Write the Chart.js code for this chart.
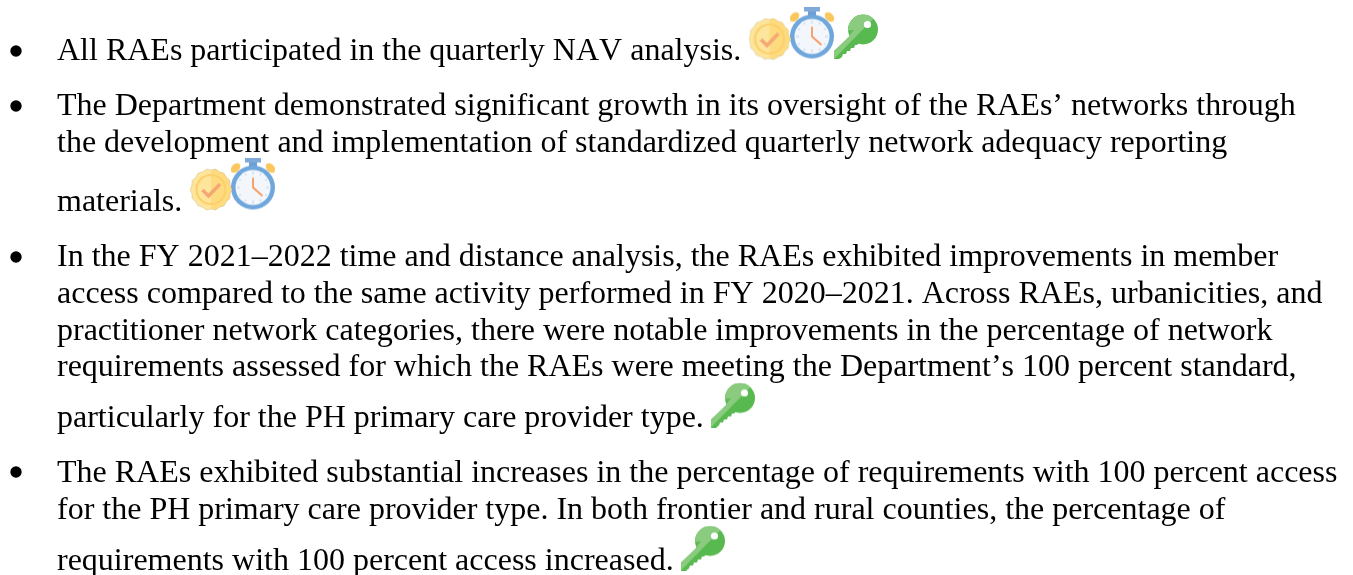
<!DOCTYPE html>
<html>
<head>
<meta charset="utf-8">
<style>
html,body{margin:0;padding:0;background:#fff;width:1353px;height:575px;overflow:hidden}
#wrap{position:relative;width:1353px;height:575px}
canvas{position:absolute;left:0;top:0}
.ln{position:absolute;left:57px;white-space:nowrap;font-family:"Liberation Serif",serif;font-size:32px;line-height:36px;color:#000;font-kerning:none}
</style>
<script src="https://cdn.jsdelivr.net/npm/chart.js@4"></script>
</head>
<body>
<div id="wrap"><canvas id="c" width="1353" height="575"></canvas></div>
<script>
const textLines = [
"All RAEs participated in the quarterly NAV analysis.",
"The Department demonstrated significant growth in its oversight of the RAEs’ networks through",
"the development and implementation of standardized quarterly network adequacy reporting",
"materials.",
"In the FY 2021–2022 time and distance analysis, the RAEs exhibited improvements in member",
"access compared to the same activity performed in FY 2020–2021. Across RAEs, urbanicities, and",
"practitioner network categories, there were notable improvements in the percentage of network",
"requirements assessed for which the RAEs were meeting the Department’s 100 percent standard,",
"particularly for the PH primary care provider type.",
"The RAEs exhibited substantial increases in the percentage of requirements with 100 percent access",
"for the PH primary care provider type. In both frontier and rural counties, the percentage of",
"requirements with 100 percent access increased."
];
const lineBaselines = [60,115,152,211,266,303,340,376,427,482,519,570];
const bulletX = [16,16,16,16];
const bulletY = [51,106,257,472];
const badgeX = [769.5,211];
const badgeY = [39,189.5];
const watchX = [812,253];
const watchY = [33,184];
const keyX = [856,733,703];
const keyY = [36.5,405,548];

function iconCanvas(w,h,draw){
  const c=document.createElement('canvas');c.width=w;c.height=h;
  draw(c.getContext('2d'));return c;
}
const badgeIcon=iconCanvas(42,43,g=>{
  const cx=21,cy=21.5,n=14;
  const shape=new Path2D();
  for(let i=0;i<=n*2;i++){
    const a=i/(n*2)*Math.PI*2,r=i%2?19.6:20.9;
    const x=cx+Math.cos(a)*r,y=cy+Math.sin(a)*r;
    i?shape.lineTo(x,y):shape.moveTo(x,y);
  }
  shape.closePath();
  g.fillStyle='#fee59c';g.fill(shape);
  g.save();g.clip(shape);g.fillStyle='#fedb7e';g.fillRect(cx,0,21,43);g.restore();
  g.strokeStyle='rgba(190,170,120,.5)';g.lineWidth=.7;g.stroke(shape);
  g.beginPath();g.arc(cx,cy,14.5,0,7);g.strokeStyle='#fcd06b';g.lineWidth=2.2;g.stroke();
  g.beginPath();g.moveTo(12.5,22);g.lineTo(18.5,28);g.lineTo(30,16);
  g.strokeStyle='#f5a873';g.lineWidth=3.4;g.lineCap='butt';g.stroke();
});
const watchIcon=iconCanvas(44,53,g=>{
  const cx=22,cy=30;
  g.fillStyle='#fbc75d';
  [[-1,4.5,10.5],[1,39.5,10.5]].forEach(([s,x,y])=>{
    g.save();g.translate(x,y);g.rotate(s*Math.PI/4);
    g.beginPath();g.ellipse(0,0,5.5,3.8,0,0,7);g.fill();g.restore();
  });
  g.fillStyle='#7ea9d8';g.fillRect(14,0,16,5);
  g.fillStyle='#6d9fd6';g.fillRect(18,5,8,5);
  g.beginPath();g.arc(cx,cy,22,0,7);g.fillStyle='#6fa6dc';g.fill();
  g.beginPath();g.arc(cx,cy,17.5,0,7);g.fillStyle='#f3f7fc';g.fill();
  g.strokeStyle='#c5d9ef';g.lineWidth=1.2;
  for(let i=0;i<12;i++){
    const a=i/12*Math.PI*2,r1=i%3?14:13,r2=16;
    g.beginPath();g.moveTo(cx+Math.cos(a)*r1,cy+Math.sin(a)*r1);g.lineTo(cx+Math.cos(a)*r2,cy+Math.sin(a)*r2);g.stroke();
  }
  g.lineCap='round';g.lineWidth=1.8;g.strokeStyle='#f59a5f';
  g.beginPath();g.moveTo(cx,cy-9);g.lineTo(cx,cy);g.lineTo(cx+9,cy+8);g.stroke();
});
const keyIcon=iconCanvas(44,45,g=>{
  const body=new Path2D();
  body.arc(29,15.5,15,0,Math.PI*2);
  g.fillStyle='#57b94f';g.fill(body);
  const shaft=new Path2D();
  shaft.moveTo(0,37);shaft.lineTo(21,17);shaft.lineTo(29,25);
  shaft.lineTo(23,31);shaft.lineTo(21,31);shaft.lineTo(20,34);shaft.lineTo(17,34);shaft.lineTo(16,37);
  shaft.lineTo(13,37);shaft.lineTo(12,40);shaft.lineTo(9,40);shaft.lineTo(8,43);shaft.lineTo(5,45);shaft.lineTo(0,45);
  shaft.closePath();
  g.fill(shaft);
  g.save();
  const lite=new Path2D();
  lite.moveTo(0,38);lite.lineTo(20,16);lite.arc(29,15.5,15,Math.PI*0.98,Math.PI*1.75,false);
  lite.lineTo(39,5);lite.lineTo(0,45);lite.closePath();
  g.fillStyle='#8bcb7f';
  const all=new Path2D();all.addPath(body);all.addPath(shaft);
  g.clip(all);g.fill(lite);g.restore();
  g.beginPath();g.arc(33.5,10.5,3.6,0,7);g.fillStyle='#fff';g.fill();
});

const xyPairs=(xs,ys)=>xs.map((x,i)=>({x,y:ys[i]}));
const chart=new Chart(document.getElementById('c'),{
  type:'scatter',
  data:{datasets:[
    {label:'bullets',data:xyPairs(bulletX,bulletY),pointStyle:'circle',pointRadius:5.7,pointBackgroundColor:'#000',pointBorderWidth:0},
    {label:'badge',data:xyPairs(badgeX,badgeY),pointStyle:badgeIcon,pointRadius:21},
    {label:'stopwatch',data:xyPairs(watchX,watchY),pointStyle:watchIcon,pointRadius:22},
    {label:'key',data:xyPairs(keyX,keyY),pointStyle:keyIcon,pointRadius:22}
  ]},
  options:{
    responsive:false,animation:false,devicePixelRatio:1,
    layout:{padding:0,autoPadding:false},
    plugins:{legend:{display:false},tooltip:{enabled:false}},
    scales:{
      x:{type:'linear',min:0,max:1353,display:false},
      y:{type:'linear',min:0,max:575,reverse:true,display:false}
    }
  }
});
const wrap=document.getElementById('wrap');
const fs=32,lh=36;
textLines.forEach((t,i)=>{
  const s=document.createElement('span');s.className='ln';s.textContent=t;
  const base=chart.scales.y.getPixelForValue(lineBaselines[i]);
  s.style.top=(base-((lh-1.107*fs)/2+0.891*fs))+'px';
  wrap.appendChild(s);
});
</script>
</body>
</html>
